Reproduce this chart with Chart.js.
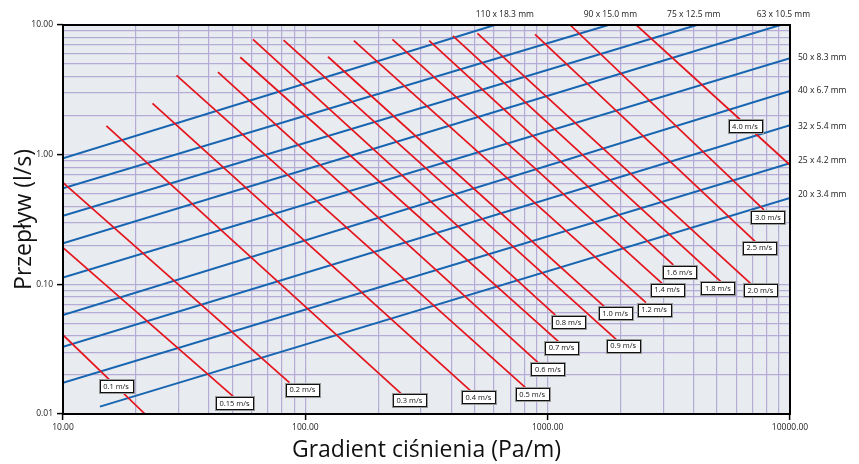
<!DOCTYPE html>
<html>
<head>
<meta charset="utf-8">
<script src="https://cdn.jsdelivr.net/npm/chart.js@4/dist/chart.umd.min.js"></script>
<style>
  html, body { margin: 0; padding: 0; background: #fff; }
  #wrap { width: 859px; height: 464px; }
</style>
</head>
<body>
<div id="wrap"><canvas id="chart" width="859" height="464"></canvas></div>
<script>
// Pipe sizes (outer diameter x wall) – flow vs. pressure gradient lines
const pipeSizes = ['110 x 18.3 mm', '90 x 15.0 mm', '75 x 12.5 mm', '63 x 10.5 mm',
                   '50 x 8.3 mm', '40 x 6.7 mm', '32 x 5.4 mm', '25 x 4.2 mm', '20 x 3.4 mm'];
const pipeStartGradient = [10, 10, 10, 10, 10, 10, 10, 10, 14.2];
const pipeStartFlow     = [0.937, 0.550, 0.338, 0.207, 0.113, 0.058, 0.033, 0.0174, 0.0114];
const pipeEndGradient   = [605, 1781, 4124, 9125, 10000, 10000, 10000, 10000, 10000];
const pipeEndFlow       = [10, 10, 10, 10, 5.54, 3.10, 1.69, 0.858, 0.463];

// Constant-velocity lines
const velocities = ['0.1 m/s', '0.15 m/s', '0.2 m/s', '0.3 m/s', '0.4 m/s', '0.5 m/s', '0.6 m/s',
                    '0.7 m/s', '0.8 m/s', '0.9 m/s', '1.0 m/s', '1.2 m/s', '1.4 m/s', '1.6 m/s',
                    '1.8 m/s', '2.0 m/s', '2.5 m/s', '3.0 m/s', '4.0 m/s'];
const velStartGradient = [10, 10, 10, 15.1, 23.4, 29.4, 43.6, 53.9, 60.8, 81.3, 124, 158.6,
                          228.7, 324.2, 406.2, 512.9, 887, 1238, 2323];
const velStartFlow     = [0.0407, 0.1917, 0.608, 1.664, 2.49, 4.09, 4.34, 5.64, 7.76, 7.66, 5.69,
                          7.57, 7.76, 7.57, 8.23, 8.63, 8.48, 10, 10];
const velEndGradient   = [21.8, 50.5, 86.0, 249.2, 479.8, 808, 910.7, 1109, 1076, 1917, 1727,
                          2546, 2965, 3300, 5184, 6868, 7191, 7808, 10000];
const velEndFlow       = [0.01, 0.0136, 0.01744, 0.01427, 0.01513, 0.01607, 0.02506, 0.0361,
                          0.058, 0.0377, 0.0665, 0.0722, 0.1019, 0.141, 0.1048, 0.1019, 0.2132,
                          0.3745, 0.832];

// Axis ticks
const xTickValues = [10, 100, 1000, 10000];
const xTickLabels = ['10.00', '100.00', '1000.00', '10000.00'];
const yTickValues = [0.01, 0.1, 1, 10];
const yTickLabels = ['0.01', '0.10', '1.00', '10.00'];

// ---- styling / layout ----
const BLUE = '#1765b0';
const RED = '#e5141c';
const PLOT_BG = '#e8ebef';
const GRID = '#b4acd6';
const FONT = '"Open Sans", "Liberation Sans", sans-serif';

// tag box centre relative to the lower end of each velocity line (px)
const velTagOffset = [[-29, -28], [1, 6.5], [13, 7], [8, 6.5], [8, 6.5], [7, 7], [10, 7], [3, 6],
                      [13, 7], [7, 6.5], [10, 6], [8, 7], [5, 6.5], [6, 7], [-3, 6.5], [10, 7],
                      [4, 6], [4, 7], [-45, -39]];
// name placement next to the upper end of each pipe line (px)
const pipeNameShift = [10, 2, -3, 3, -1, 0, 1, -3, -3];

// minor + major grid positions for a log axis
function logGrid(values) {
  const out = [];
  for (let i = 0; i < values.length - 1; i++) {
    for (let m = 1; m < 10; m++) out.push(values[i] * m);
  }
  out.push(values[values.length - 1]);
  return out;
}
function labelFor(values, labels, v) {
  const i = values.findIndex(t => Math.abs(Math.log10(t) - Math.log10(v)) < 1e-6);
  return i >= 0 ? labels[i] : '';
}
function isMajor(values, v) {
  return values.some(t => Math.abs(Math.log10(t) - Math.log10(v)) < 1e-6);
}

const datasets = [];
velocities.forEach((name, i) => datasets.push({
  label: name,
  data: [{ x: velStartGradient[i], y: velStartFlow[i] }, { x: velEndGradient[i], y: velEndFlow[i] }],
  borderColor: RED, borderWidth: 1.7, showLine: true, pointRadius: 0, pointHoverRadius: 0
}));
pipeSizes.forEach((name, i) => datasets.push({
  label: name,
  data: [{ x: pipeStartGradient[i], y: pipeStartFlow[i] }, { x: pipeEndGradient[i], y: pipeEndFlow[i] }],
  borderColor: BLUE, borderWidth: 2, showLine: true, pointRadius: 0, pointHoverRadius: 0
}));

const decorations = {
  id: 'decorations',
  beforeDraw(chart) {
    const { ctx, chartArea: a } = chart;
    ctx.save();
    ctx.fillStyle = '#fff';
    ctx.fillRect(0, 0, chart.width, chart.height);
    ctx.fillStyle = PLOT_BG;
    ctx.fillRect(a.left, a.top, a.right - a.left, a.bottom - a.top);
    ctx.restore();
  },
  afterDatasetsDraw(chart) {
    const { ctx, chartArea: a, scales: { x, y } } = chart;
    ctx.save();

    // velocity tags
    ctx.font = '7.5px ' + FONT;
    ctx.textAlign = 'center';
    ctx.textBaseline = 'middle';
    velocities.forEach((name, i) => {
      const cx = x.getPixelForValue(velEndGradient[i]) + velTagOffset[i][0];
      const cy = y.getPixelForValue(velEndFlow[i]) + velTagOffset[i][1];
      const w = Math.round(ctx.measureText(name).width + 7), h = 12;
      const l = Math.round(cx - w / 2) + 0.5, t = Math.round(cy - h / 2) + 0.5;
      ctx.fillStyle = '#fff';
      ctx.fillRect(l, t, w, h);
      ctx.strokeStyle = '#999';
      ctx.lineWidth = 1;
      ctx.strokeRect(l - 1, t - 1, w + 2, h + 2);
      ctx.strokeStyle = '#111';
      ctx.strokeRect(l, t, w, h);
      ctx.fillStyle = '#111';
      ctx.fillText(name, cx, cy + 0.5);
    });

    // pipe size names
    ctx.font = '8.5px ' + FONT;
    ctx.fillStyle = '#1a1a1a';
    ctx.textBaseline = 'middle';
    pipeSizes.forEach((name, i) => {
      const ex = x.getPixelForValue(pipeEndGradient[i]);
      const ey = y.getPixelForValue(pipeEndFlow[i]);
      if (pipeEndFlow[i] >= yTickValues[yTickValues.length - 1]) {
        ctx.textAlign = 'center';
        ctx.fillText(name, ex + pipeNameShift[i], a.top - 10);
      } else {
        ctx.textAlign = 'left';
        ctx.fillText(name, a.right + 8, ey + pipeNameShift[i]);
      }
    });

    // plot frame
    ctx.strokeStyle = '#000';
    ctx.lineWidth = 2;
    ctx.strokeRect(a.left, a.top, a.right - a.left, a.bottom - a.top);
    ctx.restore();
  }
};

function axisOptions(values, labels, isX) {
  return {
    type: 'logarithmic',
    min: values[0],
    max: values[values.length - 1],
    afterBuildTicks(scale) {
      scale.ticks = logGrid(values).map(v => ({ value: v, major: isMajor(values, v) }));
    },
    afterFit(scale) {
      if (isX) scale.height = 50; else scale.width = 63;
    },
    border: { display: false },
    grid: {
      color: GRID,
      lineWidth: 1.2,
      drawTicks: true,
      tickLength: 6,
      tickWidth: 1.5,
      tickColor: c => (c.tick && isMajor(values, c.tick.value)) ? '#000' : 'rgba(0,0,0,0)'
    },
    ticks: {
      autoSkip: false,
      maxRotation: 0,
      padding: isX ? 2 : 4,
      color: '#1a1a1a',
      font: { family: FONT, size: 8.5 },
      callback: v => labelFor(values, labels, v)
    },
    title: {
      display: true,
      text: isX ? 'Gradient ciśnienia (Pa/m)' : 'Przepływ (l/s)',
      color: '#111',
      font: { family: FONT, size: 23 },
      padding: isX ? { top: 0, bottom: 0 } : { top: 11, bottom: 0 }
    }
  };
}

new Chart(document.getElementById('chart'), {
  type: 'scatter',
  data: { datasets },
  options: {
    responsive: false,
    animation: false,
    events: [],
    layout: { padding: { left: 0, top: 25, right: 69, bottom: 0 } },
    plugins: { legend: { display: false }, tooltip: { enabled: false } },
    scales: {
      x: axisOptions(xTickValues, xTickLabels, true),
      y: axisOptions(yTickValues, yTickLabels, false)
    }
  },
  plugins: [decorations]
});
</script>
</body>
</html>
